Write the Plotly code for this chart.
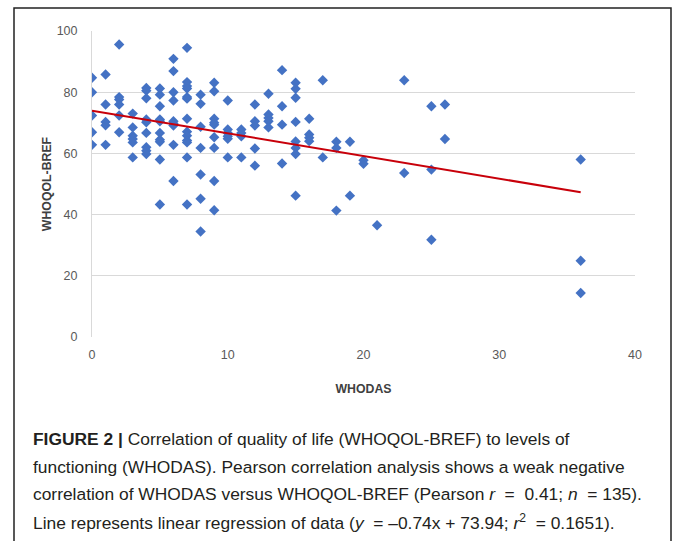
import plotly.graph_objects as go

# ---- data ----
whodas = (
    [0]*5 + [1]*5 + [2]*6 + [3]*6 + [4]*9 + [5]*10 + [6]*9 + [7]*13 + [8]*7 + [9]*9
    + [10]*6 + [11]*4 + [12]*5 + [13]*5 + [14]*4 + [15]*8 + [16]*4 + [17]*2 + [18]*3
    + [19]*2 + [20]*2 + [21]*1 + [23]*2 + [25]*3 + [26]*2 + [36]*3
)
whoqol = [
    84.7, 80.0, 72.4, 66.9, 62.8,                      # 0
    85.8, 76.0, 70.3, 69.2, 62.8,                      # 1
    95.6, 78.4, 77.6, 76.0, 72.4, 66.9,                # 2
    73.0, 68.5, 65.8, 64.7, 63.6, 58.7,                # 3
    81.4, 80.5, 78.0, 71.1, 70.2, 66.7, 62.0, 60.9, 59.8,   # 4
    81.2, 79.2, 75.4, 71.1, 70.5, 66.7, 64.5, 63.8, 58.0, 43.3,  # 5
    90.9, 86.9, 80.0, 77.3, 70.5, 69.8, 69.1, 62.8, 51.0,   # 6
    94.5, 83.3, 82.0, 81.2, 78.4, 77.9, 71.3, 67.1, 65.8, 64.2, 63.6, 58.7, 43.3,  # 7
    79.2, 76.2, 68.7, 61.8, 53.1, 45.2, 34.5,          # 8
    83.1, 80.3, 71.3, 70.0, 69.4, 65.3, 61.8, 51.0, 41.4,   # 9
    77.3, 67.8, 66.7, 65.6, 64.8, 58.7,                # 10
    67.8, 66.7, 65.6, 58.7,                            # 11
    76.0, 70.5, 69.1, 61.6, 56.0,                      # 12
    79.5, 72.7, 71.6, 70.5, 68.5,                      # 13
    87.2, 75.4, 69.4, 56.7,                            # 14
    83.1, 81.1, 78.2, 70.3, 63.9, 61.8, 59.8, 46.2,    # 15
    71.3, 66.2, 65.1, 64.0,                            # 16
    83.9, 58.7,                                        # 17
    63.8, 61.8, 41.3,                                  # 18
    63.8, 46.2,                                        # 19
    57.8, 56.6,                                        # 20
    36.5,                                              # 21
    83.9, 53.6,                                        # 23
    75.4, 54.7, 31.8,                                  # 25
    76.0, 64.7,                                        # 26
    58.0, 24.9, 14.4,                                  # 36
]
slope = -0.74
intercept = 73.94

x_ticks = [0, 10, 20, 30, 40]
y_ticks = [0, 20, 40, 60, 80, 100]

caption_lines = [
    "<b>FIGURE 2 |</b> Correlation of quality of life (WHOQOL-BREF) to levels of",
    "functioning (WHODAS). Pearson correlation analysis shows a weak negative",
    "correlation of WHODAS versus WHOQOL-BREF (Pearson <i>r</i>  =  0.41; <i>n</i>  = 135).",
    "Line represents linear regression of data (<i>y</i>  = –0.74x + 73.94; <i>r</i><sup>2</sup>  = 0.1651).",
]

# ---- layout geometry (page body margin removed via post_script) ----
W, H = 673, 541
L, T = 92, 31
PR, PB = 635, 337          # plot right / bottom in px
R, B = W - PR, H - PB
PW, PH = PR - L, PB - T

def px(x):
    return (x - L) / PW

def py(y):
    return (PB - y) / PH

fig = go.Figure()
fig.add_trace(go.Scatter(
    x=whodas, y=whoqol, mode="markers",
    marker=dict(symbol="diamond", size=8, color="#4472C4", line=dict(width=0)),
    showlegend=False, hoverinfo="skip",
))
x_line = [min(whodas), max(whodas)]
fig.add_trace(go.Scatter(
    x=x_line, y=[slope * v + intercept for v in x_line], mode="lines",
    line=dict(color="#C8000A", width=2), showlegend=False, hoverinfo="skip",
))

axis_font = dict(family="Liberation Sans, Arial, sans-serif", size=12.5, color="#595959")
title_font = dict(family="Liberation Sans, Arial, sans-serif", size=12.3, color="#404040")

fig.update_layout(
    width=W, height=H,
    margin=dict(l=L, r=R, t=T, b=B, pad=0),
    paper_bgcolor="white", plot_bgcolor="white",
    xaxis=dict(
        range=[0, 40], tickvals=x_ticks, showgrid=False, zeroline=False,
        showline=False, tickfont=axis_font, ticks="", ticklabelstandoff=8,
        title=dict(text="<b>WHODAS</b>", font=title_font, standoff=23),
        fixedrange=True,
    ),
    yaxis=dict(
        range=[0, 100], tickvals=y_ticks, showgrid=True, gridcolor="#D9D9D9",
        gridwidth=1, zeroline=False, showline=True, linecolor="#D9D9D9",
        tickfont=axis_font, ticks="", ticklabelstandoff=11,
        title=dict(text="<b>WHOQOL-BREF</b>", font=title_font, standoff=2),
        fixedrange=True,
    ),
)

# outer figure border
fig.add_shape(type="rect", xref="paper", yref="paper",
              x0=px(14), x1=px(671), y0=py(560), y1=py(8),
              line=dict(color="#222222", width=1.5), fillcolor="rgba(0,0,0,0)",
              layer="below")

cap_font = dict(family="Liberation Sans, Arial, sans-serif", size=17.4, color="#231F20")
cap_y = [439, 467, 494, 522]
for txt, yy in zip(caption_lines, cap_y):
    fig.add_annotation(text=txt, xref="paper", yref="paper",
                       x=px(31), y=py(yy), xanchor="left", yanchor="middle",
                       showarrow=False, font=cap_font, align="left")

fig.write_html(
    "out.html",
    config={"displayModeBar": False},
    post_script="document.body.style.margin='0px';document.body.style.overflow='hidden';",
)
